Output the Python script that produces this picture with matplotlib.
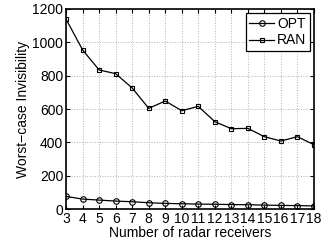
import matplotlib
matplotlib.use('Agg')
import matplotlib.pyplot as plt

plt.rcParams['font.family'] = ['Liberation Sans', 'DejaVu Sans']

receivers = list(range(3, 19))
opt = [76, 60, 54, 48, 44, 38, 34, 32, 30, 29, 27, 26, 24, 22, 21, 19]
ran = [1138, 954, 834, 812, 726, 604, 648, 590, 616, 524, 482, 484, 434, 408, 434, 386]

fig = plt.figure(figsize=(3.21, 2.42), dpi=100)
ax = fig.add_axes([0.206, 0.136, 0.772, 0.827])

ax.plot(receivers, opt, 'k-', marker='o', mfc='none', ms=4, mew=0.8, lw=0.9, label='OPT')
ax.plot(receivers, ran, 'k-', marker='s', mfc='none', ms=3.5, mew=0.8, lw=0.9, label='RAN')

ax.set_xlim(3, 18)
ax.set_ylim(0, 1200)
ax.set_xticks(receivers)
ax.set_yticks(range(0, 1201, 200))
ax.grid(True, linestyle=':', color='#b0b0b0', linewidth=0.7)
ax.tick_params(direction='in', top=True, right=True, labelsize=10, length=3, pad=2)
for s in ax.spines.values():
    s.set_linewidth(1.2)

ax.set_xlabel('Number of radar receivers', fontsize=10, labelpad=0)
ax.set_ylabel('Worst\u2212case Invisibility', fontsize=10, labelpad=2)

leg = ax.legend(loc='upper right', fontsize=10, handlelength=1.8, handletextpad=0.2,
                borderpad=0.25, labelspacing=0.2, borderaxespad=0.3, fancybox=False)
leg.get_frame().set_edgecolor('k')
leg.get_frame().set_linewidth(0.9)
leg.get_frame().set_alpha(1)

fig.savefig('out.png', dpi=100)
